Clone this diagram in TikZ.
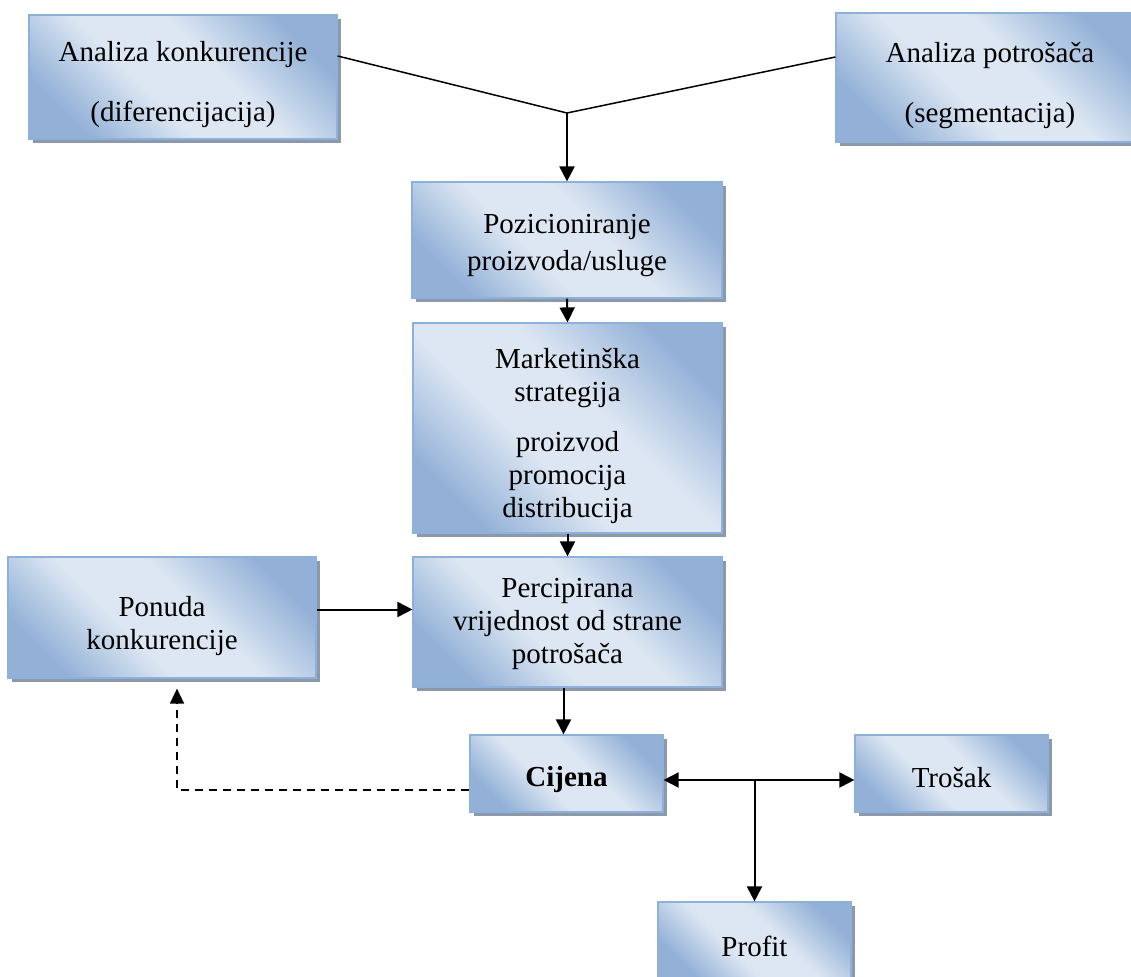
\documentclass[tikz,border=0pt]{standalone}
\usepackage{fontspec}
\setmainfont{Liberation Serif}
\usepackage{tikz}
\usetikzlibrary{arrows.meta,calc,positioning,shadows}
\definecolor{okvir}{HTML}{8EB1DC}
\definecolor{tamna}{HTML}{93B1D7}
\definecolor{svijetla}{HTML}{DDE7F3}
\definecolor{sjena}{HTML}{8C99AA}
\pgfdeclareverticalshading{kutijasjaj}{100bp}{color(0bp)=(tamna); color(25bp)=(tamna); color(43bp)=(svijetla); color(58bp)=(svijetla); color(75bp)=(tamna); color(100bp)=(tamna)}
\newcommand{\razmak}[1]{\rule{0pt}{#1}}

\begin{document}
\begin{tikzpicture}[x=1pt,y=-1pt,
    kutija/.style={draw=okvir,line width=1.2pt,shading=kutijasjaj,shading angle=135,
      general shadow={shadow xshift=4pt,shadow yshift=-4pt,fill=sjena},
      align=center,inner sep=0pt,font=\fontsize{29}{33}\selectfont},
    strelica/.style={-{Triangle[length=15pt,width=15pt]},line width=2pt},
    dvostruka/.style={{Triangle[length=15pt,width=15pt]}-{Triangle[length=15pt,width=15pt]},line width=2pt},
    isprek/.style={-{Triangle[length=15pt,width=14pt]},line width=1.6pt,dash pattern=on 8pt off 6pt}]
  \useasboundingbox (0,0) rectangle (1131,976);

  \node[kutija,minimum width=308pt,minimum height=124pt] (anakonk) at (183,77) {\razmak{36pt}Analiza konkurencije\\[27pt](diferencijacija)};
  \node[kutija,minimum width=308pt,minimum height=129pt] (anapotr) at (990,77.5) {\razmak{36pt}Analiza potrošača\\[27pt](segmentacija)};
  \node[kutija,minimum width=310pt,minimum height=116pt] (poz) at (567,240) {\razmak{30pt}Pozicioniranje\\[4pt]proizvoda/usluge};
  \node[kutija,minimum width=309pt,minimum height=210pt] (mark) at (567.5,428) {\razmak{36pt}Marketinška\\strategija\\[17pt]proizvod\\promocija\\distribucija};
  \node[kutija,minimum width=309pt,minimum height=130pt] (perc) at (567.5,622) {\razmak{24pt}Percipirana\\vrijednost od strane\\potrošača};
  \node[kutija,minimum width=308pt,minimum height=121pt] (ponuda) at (162,617.5) {\razmak{38pt}Ponuda\\konkurencije};
  \node[kutija,minimum width=193pt,minimum height=77pt] (cijena) at (566.5,773.5) {\razmak{32pt}\bfseries Cijena};
  \node[kutija,minimum width=193pt,minimum height=77pt] (trosak) at (951.5,773.5) {\razmak{28pt}Trošak};
  \node[kutija,minimum width=193pt,minimum height=77pt] (profit) at (754.5,940.5) {\razmak{32pt}Profit};

  \coordinate (spoj) at (567,113);
  \coordinate (grana) at (754.5,780);

  \draw[line width=1.5pt] ([yshift=21pt]anakonk.east) -- (spoj) -- ([yshift=20.5pt]anapotr.west);
  \draw[strelica] (spoj) -- (poz.north);
  \draw[strelica] (poz.south) -- (mark.north);
  \draw[strelica] (mark.south) -- (perc.north);
  \draw[strelica] ([xshift=-4pt]perc.south) -- ([xshift=-4pt]perc.south |- cijena.north);
  \draw[strelica] ([yshift=8pt]ponuda.east) -- ([yshift=8pt]ponuda.east -| perc.west);
  \draw[dvostruka] ([yshift=-6.5pt]cijena.east) -- ([yshift=-6.5pt]cijena.east -| trosak.west);
  \draw[strelica] (grana) -- (grana |- profit.north);
  \draw[isprek] ([yshift=-16.5pt]cijena.west) -| ([xshift=15pt,yshift=-10pt]ponuda.south);
\end{tikzpicture}
\end{document}
